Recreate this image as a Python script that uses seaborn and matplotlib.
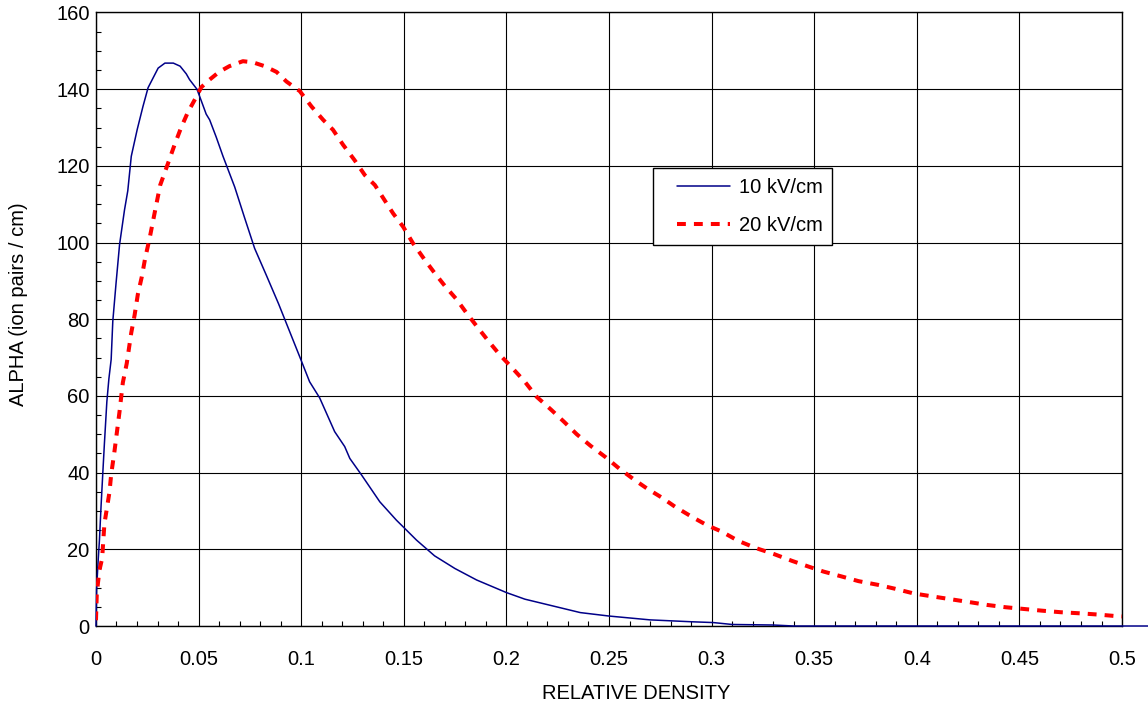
import numpy as np
import seaborn as sns
import matplotlib
matplotlib.use("Agg")
import matplotlib.pyplot as plt
from matplotlib.ticker import MultipleLocator
from matplotlib.lines import Line2D
from matplotlib.legend_handler import HandlerLine2D

# 10 kV/cm curve
x_10 = [0, 0.0003, 0.001, 0.0017, 0.0025, 0.0033, 0.0041, 0.0053, 0.0063, 0.0074,
        0.0082, 0.0098, 0.0115, 0.0139, 0.0155, 0.0172, 0.0201, 0.0229, 0.0254, 0.0303,
        0.0336, 0.0377, 0.041, 0.044, 0.0456, 0.0492, 0.0513, 0.0537, 0.0554, 0.0586,
        0.0619, 0.0676, 0.0724, 0.0773, 0.083, 0.089, 0.0993, 0.1041, 0.109, 0.1163,
        0.1212, 0.1237, 0.1294, 0.1383, 0.1464, 0.150, 0.1562, 0.165, 0.1749, 0.1855,
        0.2001, 0.209, 0.236, 0.25, 0.27, 0.2905, 0.3008, 0.310, 0.330, 0.34,
        0.40, 0.45, 0.513]
y_10 = [0, 9.6, 16.5, 22.5, 31.5, 39.6, 47.5, 58.5, 64.5, 69.5,
        79.5, 89.5, 99.5, 108.5, 113.5, 122.5, 129.5, 135.5, 140.4, 145.5,
        146.8, 146.8, 146, 144, 142.5, 140, 137, 133.5, 132, 127.5,
        122.5, 114.5, 106.5, 98.5, 91.5, 84, 70.2, 63.7, 59.5, 50.7,
        46.8, 43.7, 39.4, 32.4, 27.6, 25.7, 22.4, 18.3, 15, 12,
        8.7, 7, 3.5, 2.6, 1.6, 1.1, 0.9, 0.4, 0.26, 0,
        0, 0, 0]

# 20 kV/cm curve
x_20 = [0, 0.0004, 0.0017, 0.003, 0.0041, 0.0066, 0.0074, 0.009, 0.0115, 0.0131,
        0.015, 0.0172, 0.0188, 0.0204, 0.0223, 0.024, 0.0261, 0.0285, 0.0313, 0.035,
        0.0383, 0.0415, 0.0448, 0.0489, 0.0513, 0.0554, 0.06, 0.065, 0.0716, 0.0765,
        0.0822, 0.088, 0.0928, 0.0993, 0.105, 0.1107, 0.1155, 0.1204, 0.126, 0.131,
        0.1359, 0.1407, 0.1448, 0.1497, 0.1545, 0.1602, 0.1651, 0.170, 0.1757, 0.1806,
        0.1858, 0.1911, 0.1965, 0.2025, 0.209, 0.2147, 0.2216, 0.228, 0.2343, 0.241,
        0.2484, 0.2549, 0.2627, 0.2684, 0.2757, 0.2822, 0.2903, 0.2977, 0.305, 0.313,
        0.3217, 0.3302, 0.3391, 0.3472, 0.3545, 0.3635, 0.3716, 0.3814, 0.3895, 0.3984,
        0.4066, 0.4163, 0.426, 0.4342, 0.4432, 0.453, 0.461, 0.47, 0.4798, 0.488,
        0.4968, 0.5]
y_20 = [1.5, 8.6, 14.6, 17.6, 26.6, 35, 39.5, 45.5, 56, 63.5,
        68.5, 76.5, 81, 86.5, 91, 96, 101, 107.5, 115, 120.5,
        125.5, 130, 134, 138, 140.5, 142.5, 144.5, 146, 147.3, 147,
        146, 144.5, 142, 139.5, 135.5, 132, 129.4, 125.5, 121.5, 117.6,
        115, 111, 107.6, 104.1, 99.8, 95.5, 92, 88.7, 85.2, 81.6,
        78, 74.4, 70.9, 67.5, 63.7, 59.8, 56.5, 53.3, 50, 47,
        44, 41.1, 38, 35.9, 33.5, 31.1, 28.5, 26.3, 24.6, 22.2,
        20.3, 18.8, 17, 15.5, 14.2, 12.9, 11.7, 10.7, 9.7, 8.5,
        7.8, 7, 6.2, 5.5, 4.9, 4.4, 4, 3.6, 3.3, 3.0,
        2.6, 2.5]

x_ticks = [0, 0.05, 0.1, 0.15, 0.2, 0.25, 0.3, 0.35, 0.4, 0.45, 0.5]
x_tick_labels = ["0", "0.05", "0.1", "0.15", "0.2", "0.25", "0.3", "0.35", "0.4", "0.45", "0.5"]
y_ticks = [0, 20, 40, 60, 80, 100, 120, 140, 160]

sns.set_style("white")
plt.rcParams["font.family"] = ["Liberation Sans", "DejaVu Sans"]
plt.rcParams["text.color"] = "black"
plt.rcParams["axes.labelcolor"] = "black"
plt.rcParams["xtick.color"] = "black"
plt.rcParams["ytick.color"] = "black"
fs = 14.5

fig, ax = plt.subplots(figsize=(11.48, 7.06), dpi=100)
fig.subplots_adjust(left=0.0836, right=0.9774, bottom=0.1133, top=0.9823)

sns.lineplot(x=x_10, y=y_10, ax=ax, color="#000088", lw=1.1, estimator=None,
             sort=False, label="10 kV/cm", clip_on=False, zorder=3)
sns.lineplot(x=x_20, y=y_20, ax=ax, color="#ff0000", lw=2.9, estimator=None,
             sort=False, label="20 kV/cm", linestyle=(0, (2.2, 2.0)), zorder=4)

ax.set_xlim(0, 0.5)
ax.set_ylim(0, 160)
ax.set_xticks(x_ticks)
ax.set_xticklabels(x_tick_labels)
ax.set_yticks(y_ticks)
ax.xaxis.set_minor_locator(MultipleLocator(0.01))
ax.yaxis.set_minor_locator(MultipleLocator(5))

ax.tick_params(which="major", axis="x", direction="out", length=5, width=0.8,
               colors="black", labelsize=fs, pad=12)
ax.tick_params(which="major", axis="y", direction="out", length=2.5, width=0.8,
               colors="black", labelsize=fs, pad=2)
ax.tick_params(which="minor", direction="in", length=3.8, width=0.8, color="black")
ax.tick_params(which="minor", axis="x", bottom=True)
ax.tick_params(which="minor", axis="y", left=True)

ax.grid(True, which="major", color="black", lw=0.8)
ax.set_axisbelow(True)
for s in ax.spines.values():
    s.set_color("black")
    s.set_linewidth(1.0)

ax.set_xlabel("RELATIVE DENSITY", fontsize=fs, color="black")
ax.set_ylabel("ALPHA (ion pairs / cm)", fontsize=fs, color="black")
ax.xaxis.set_label_coords(0.526, -0.094)
ax.yaxis.set_label_coords(-0.066, 0.525)

leg = ax.legend(loc="lower left", bbox_to_anchor=(0.543, 0.621), borderaxespad=0,
                fontsize=fs, frameon=True, fancybox=False, framealpha=1,
                edgecolor="black", handlelength=3.3, handletextpad=0.44,
                borderpad=0.5, labelspacing=0.95,
                handler_map={Line2D: HandlerLine2D(xpad=0.69)})
leg.get_frame().set_linewidth(1.0)

fig.savefig("out.png", dpi=100)
